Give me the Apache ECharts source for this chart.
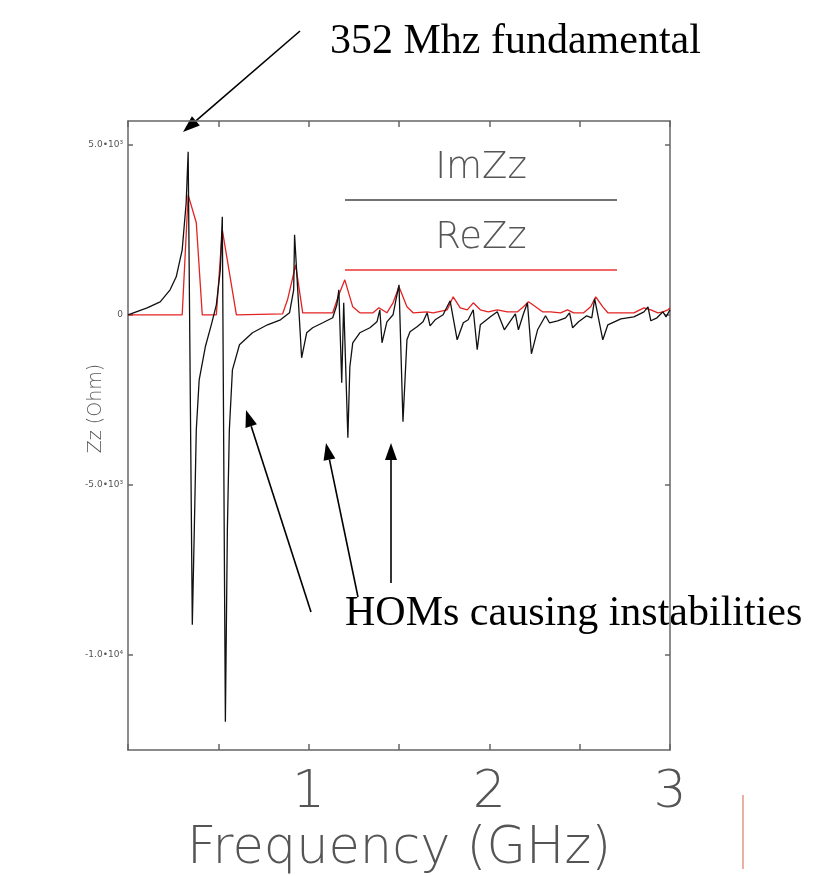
<!DOCTYPE html>
<html>
<head>
<meta charset="utf-8">
<script src="https://cdn.jsdelivr.net/npm/echarts@6/dist/echarts.min.js"></script>
<style>
  html, body { margin: 0; padding: 0; background: #fff; }
  #main { width: 828px; height: 876px; }
</style>
</head>
<body>
<div id="main"></div>
<script>
// ImZz (black)
var imFreq = [0, 0.106, 0.178, 0.233, 0.267, 0.300, 0.322, 0.333, 0.356, 0.367,
  0.378, 0.394, 0.428, 0.461, 0.489, 0.511, 0.522, 0.539, 0.550, 0.561,
  0.578, 0.617, 0.689, 0.772, 0.844, 0.894, 0.917, 0.922, 0.961, 0.989,
  1.022, 1.078, 1.133, 1.156, 1.167, 1.183, 1.194, 1.217, 1.228, 1.244,
  1.283, 1.339, 1.378, 1.394, 1.406, 1.433, 1.467, 1.483, 1.500, 1.522,
  1.544, 1.561, 1.600, 1.633, 1.656, 1.672, 1.700, 1.744, 1.783, 1.822,
  1.856, 1.883, 1.911, 1.933, 1.950, 2.006, 2.044, 2.083, 2.117, 2.144,
  2.161, 2.189, 2.211, 2.233, 2.267, 2.311, 2.333, 2.378, 2.422, 2.444,
  2.461, 2.494, 2.539, 2.567, 2.583, 2.628, 2.656, 2.728, 2.800, 2.856,
  2.878, 2.894, 2.928, 2.961, 2.978, 3.0];
var imZz = [0, 206, 382, 735, 1118, 1912, 3294, 4794, -9117, -6323,
  -3382, -1912, -941, -294, 294, 1323, 2882, -11970, -6323, -3382,
  -1618, -882, -529, -294, -147, 59, 735, 2353, -1265, -529,
  -382, -235, -88, 294, 735, -2000, 353, -3617, -1529, -824,
  -529, -382, -206, 147, -824, -206, 0, 441, 882, -3147,
  -735, -500, -353, -206, 59, -324, -147, 0, 412, -735,
  -235, -147, 147, -1029, -294, -59, 88, -441, -176, 29,
  -441, 29, 353, -1147, -441, -29, -235, -176, -88, 59,
  -382, -206, -29, -88, 471, -735, -294, -118, -59, 88,
  235, -176, -88, 88, -59, 147];

// ReZz (red)
var reFreq = [0, 0.300, 0.333, 0.378, 0.411, 0.489, 0.522, 0.600, 0.856, 0.883,
  0.928, 0.967, 1.133, 1.167, 1.200, 1.244, 1.283, 1.356, 1.389, 1.433,
  1.467, 1.500, 1.544, 1.578, 1.656, 1.689, 1.767, 1.800, 1.839, 1.878,
  1.911, 1.950, 1.994, 2.044, 2.100, 2.156, 2.189, 2.217, 2.256, 2.294,
  2.339, 2.394, 2.433, 2.467, 2.522, 2.561, 2.589, 2.628, 2.656, 2.728,
  2.800, 2.856, 2.894, 2.933, 2.961, 2.989, 3.0];
var reZz = [0, 0, 3529, 2706, 0, 0, 2500, 0, 29, 441,
  1470, 59, 59, 588, 1029, 235, 59, 59, 206, 59,
  353, 824, 235, 59, 88, 59, 147, 529, 206, 147,
  353, 147, 88, 147, 88, 88, 235, 382, 235, 88,
  88, 59, 147, 59, 59, 235, 529, 235, 59, 59,
  59, 206, 147, 59, 88, 147, 206];

var yTicks = [-10000, -5000, 0, 5000];
var yTickLabels = ['-1.0•10⁴', '-5.0•10³', '0', '5.0•10³'];
var xLabelValues = [1, 2, 3];

function pairs(xs, ys) {
  return xs.map(function (x, i) { return [x, ys[i]]; });
}

// arrow = line + filled head
function arrow(x1, y1, x2, y2) {
  var a = Math.atan2(y2 - y1, x2 - x1);
  var len = 17, w = 6;
  var bx = x2 - len * Math.cos(a), by = y2 - len * Math.sin(a);
  var nx = -Math.sin(a), ny = Math.cos(a);
  return [
    { type: 'line', shape: { x1: x1, y1: y1, x2: bx, y2: by }, style: { stroke: '#000', lineWidth: 1.6 } },
    { type: 'polygon', shape: { points: [[x2, y2], [bx + w * nx, by + w * ny], [bx - w * nx, by - w * ny]] }, style: { fill: '#000' } }
  ];
}

var axisCol = '#666';
var thinFont = 'DejaVu Sans';

var graphics = [
  // legend drawn inside the plot
  { type: 'text', x: 481, y: 168, style: { text: 'ImZz', font: '200 37px "DejaVu Sans"', fill: '#555', align: 'center', verticalAlign: 'middle' } },
  { type: 'line', shape: { x1: 345, y1: 200, x2: 617, y2: 200 }, style: { stroke: '#444', lineWidth: 1.5 } },
  { type: 'text', x: 481, y: 238, style: { text: 'ReZz', font: '200 37px "DejaVu Sans"', fill: '#555', align: 'center', verticalAlign: 'middle' } },
  { type: 'line', shape: { x1: 345, y1: 270, x2: 617, y2: 270 }, style: { stroke: '#e33', lineWidth: 1.5 } },
  // annotations
  { type: 'text', x: 330, y: 42, style: { text: '352 Mhz fundamental', font: '42px "Liberation Serif"', fill: '#000', verticalAlign: 'middle' } },
  { type: 'text', x: 345, y: 614, style: { text: 'HOMs causing instabilities', font: '42px "Liberation Serif"', fill: '#000', verticalAlign: 'middle' } },
  // stray mark at bottom right
  { type: 'line', shape: { x1: 743, y1: 795, x2: 743, y2: 869 }, style: { stroke: '#eab0a6', lineWidth: 2 } }
];
graphics = graphics
  .concat(arrow(300, 31, 183, 132))
  .concat(arrow(311, 612, 246, 410))
  .concat(arrow(358, 597, 326, 443))
  .concat(arrow(391, 583, 391, 443));

var boxLine = { onZero: false, lineStyle: { color: axisCol, width: 1.5 } };

var chart = echarts.init(document.getElementById('main'));
chart.setOption({
  animation: false,
  backgroundColor: '#fff',
  grid: { left: 128, right: 158, top: 121, bottom: 126, outerBoundsMode: 'none' },
  xAxis: [
    {
      type: 'value', position: 'bottom', min: 0, max: 3, interval: 0.5,
      name: 'Frequency (GHz)', nameLocation: 'middle', nameGap: 74,
      nameTextStyle: { fontFamily: thinFont, fontWeight: 200, fontSize: 51, color: '#555' },
      axisLine: boxLine,
      axisTick: { inside: true, length: 6, lineStyle: { color: axisCol, width: 1.5 } },
      axisLabel: {
        margin: 17, fontFamily: thinFont, fontWeight: 200, fontSize: 52, color: '#555',
        formatter: function (v) { return xLabelValues.indexOf(v) >= 0 ? String(v) : ''; }
      },
      splitLine: { show: false }
    },
    {
      type: 'value', position: 'top', min: 0, max: 3, interval: 0.5,
      axisLine: boxLine,
      axisTick: { inside: true, length: 6, lineStyle: { color: axisCol, width: 1.5 } },
      axisLabel: { show: false },
      splitLine: { show: false }
    }
  ],
  yAxis: [
    {
      type: 'value', position: 'left', min: -12800, max: 5700,
      name: 'Zz (Ohm)', nameLocation: 'middle', nameGap: 22, nameMoveOverlap: false,
      nameTextStyle: { fontFamily: thinFont, fontWeight: 200, fontSize: 19, color: '#555', padding: [0, 0, 0, 54] },
      axisLine: boxLine,
      axisTick: { inside: true, length: 5, customValues: yTicks, lineStyle: { color: axisCol, width: 1.5 } },
      axisLabel: {
        margin: 5, fontFamily: thinFont, fontSize: 9, color: '#555', customValues: yTicks,
        formatter: function (v) { var i = yTicks.indexOf(v); return i >= 0 ? yTickLabels[i] : ''; }
      },
      splitLine: { show: false }
    },
    {
      type: 'value', position: 'right', min: -12800, max: 5700,
      axisLine: boxLine,
      axisTick: { inside: true, length: 5, customValues: yTicks, lineStyle: { color: axisCol, width: 1.5 } },
      axisLabel: { show: false },
      splitLine: { show: false }
    }
  ],
  series: [
    {
      name: 'ReZz', type: 'line', xAxisIndex: 0, yAxisIndex: 0,
      data: pairs(reFreq, reZz), showSymbol: false,
      lineStyle: { color: '#e32222', width: 1.3 }
    },
    {
      name: 'ImZz', type: 'line', xAxisIndex: 0, yAxisIndex: 0,
      data: pairs(imFreq, imZz), showSymbol: false,
      lineStyle: { color: '#111', width: 1.3 }
    }
  ],
  graphic: graphics
});
</script>
</body>
</html>
